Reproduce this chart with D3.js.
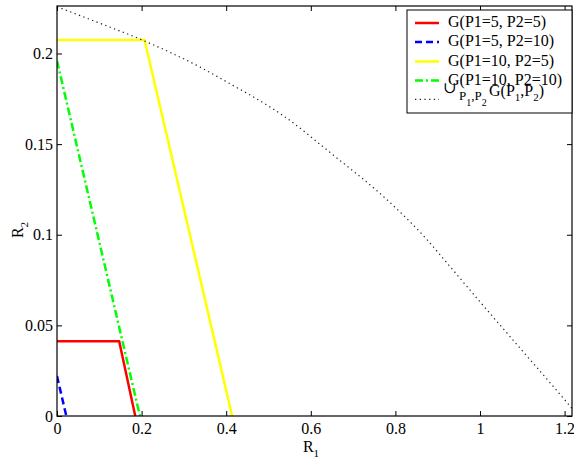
<!DOCTYPE html>
<html><head><meta charset="utf-8">
<script src="https://cdn.jsdelivr.net/npm/d3@7"></script>
<style>body{margin:0;background:#fff}svg{display:block}text{font-family:"Liberation Serif","Times New Roman",serif;fill:#000}</style>
</head><body>
<svg id="c" width="574" height="462"></svg>
<script>
// data
const xTicks = [0, 0.2, 0.4, 0.6, 0.8, 1, 1.2];
const yTicks = [0, 0.05, 0.1, 0.15, 0.2];
const xTickLabels = ["0", "0.2", "0.4", "0.6", "0.8", "1", "1.2"];
const yTickLabels = ["0", "0.05", "0.1", "0.15", "0.2"];
const g55_R1 = [0, 0.147, 0.185];
const g55_R2 = [0.0413, 0.0413, 0];
const g510_R1 = [0, 0.022];
const g510_R2 = [0.022, 0];
const g105_R1 = [0, 0.207, 0.414];
const g105_R2 = [0.2075, 0.2075, 0];
const g1010_R1 = [0, 0.196];
const g1010_R2 = [0.196, 0];
const union_R1 = [0, 0.1, 0.206, 0.338, 0.4, 0.539, 0.645, 0.8, 0.87, 0.929, 1.0, 1.1, 1.2, 1.218];
const union_R2 = [0.2258, 0.2168, 0.207, 0.1925, 0.1845, 0.165, 0.1455, 0.115, 0.0985, 0.0825, 0.063, 0.036, 0.009, 0.004];
const seriesNames = ["G(P1=5, P2=5)", "G(P1=5, P2=10)", "G(P1=10, P2=5)", "G(P1=10, P2=10)"];

const svg = d3.select("#c");
const L = 57, R = 572, T = 6, B = 416;
const x = d3.scaleLinear().domain([0, 1.2175]).range([L, R]);
const y = d3.scaleLinear().domain([0, 0.2262]).range([B, T]);

svg.append("clipPath").attr("id","cp").append("rect")
  .attr("x", L).attr("y", T).attr("width", R-L).attr("height", B-T);

const series = [
  {xs: g55_R1, ys: g55_R2, color: "#ff0000", dash: null, w: 2.5, curve: d3.curveLinear},
  {xs: g510_R1, ys: g510_R2, color: "#0000ff", dash: "7,4", w: 2.5, curve: d3.curveLinear},
  {xs: g105_R1, ys: g105_R2, color: "#ffff00", dash: null, w: 2.5, curve: d3.curveLinear},
  {xs: g1010_R1, ys: g1010_R2, color: "#00ff00", dash: "8,3,2,3", w: 2.5, curve: d3.curveLinear},
  {xs: union_R1, ys: union_R2, color: "#222", dash: "1.3,3.4", w: 1.2, curve: d3.curveMonotoneX}
];
const plot = svg.append("g").attr("clip-path", "url(#cp)");
series.forEach(s => {
  const line = d3.line().x(d => x(d[0])).y(d => y(d[1])).curve(s.curve);
  plot.append("path").datum(s.xs.map((v,i)=>[v, s.ys[i]]))
    .attr("d", line).attr("fill","none").attr("stroke", s.color)
    .attr("stroke-width", s.w).attr("stroke-dasharray", s.dash);
});

// axes
const xa = d3.axisBottom(x).tickValues(xTicks).tickFormat((d,i)=>xTickLabels[i]).tickSizeInner(-5).tickSizeOuter(0).tickPadding(7);
const ya = d3.axisLeft(y).tickValues(yTicks).tickFormat((d,i)=>yTickLabels[i]).tickSizeInner(-5).tickSizeOuter(0).tickPadding(4);
const xt = d3.axisTop(x).tickValues(xTicks).tickFormat("").tickSizeInner(-5).tickSizeOuter(0);
const yr = d3.axisRight(y).tickValues(yTicks).tickFormat("").tickSizeInner(-5).tickSizeOuter(0);
function style(g){
  g.attr("font-family",'"Liberation Serif", serif').attr("font-size",16);
  g.select(".domain").remove();
  g.selectAll("line").attr("stroke","#000");
  g.selectAll("text").attr("font-family",'"Liberation Serif", serif').attr("font-size",16);
}
svg.append("g").attr("transform",`translate(0,${B})`).call(xa).call(style);
svg.append("g").attr("transform",`translate(${L},0)`).call(ya).call(style);
svg.append("g").attr("transform",`translate(0,${T})`).call(xt).call(style);
svg.append("g").attr("transform",`translate(${R},0)`).call(yr).call(style);
svg.append("rect").attr("x",L).attr("y",T).attr("width",R-L).attr("height",B-T)
  .attr("fill","none").attr("stroke","#000").attr("stroke-width",1.2);

// axis labels
const xl = svg.append("text").attr("x", 311).attr("y", 452).attr("text-anchor","middle").style("font-size","16px");
xl.append("tspan").text("R");
xl.append("tspan").attr("dy",5).style("font-size","11px").text("1");
const yl = svg.append("text").attr("transform","translate(23,230) rotate(-90)").attr("text-anchor","middle").style("font-size","16px");
yl.append("tspan").text("R");
yl.append("tspan").attr("dy",5).style("font-size","11px").text("2");

// legend
const lg = svg.append("g");
lg.append("rect").attr("x",407).attr("y",10).attr("width",165).attr("height",103)
  .attr("fill","#fff").attr("stroke","#000").attr("stroke-width",1);
const rowY = [23, 42, 61.5, 80.5, 99.3];
series.forEach((s,i) => {
  lg.append("line").attr("x1",415).attr("x2",439).attr("y1",rowY[i]).attr("y2",rowY[i])
    .attr("stroke", s.color).attr("stroke-width", s.w).attr("stroke-dasharray", s.dash);
  if (i < 4) lg.append("text").attr("x",448).attr("y",rowY[i]+4).style("font-size","16px").text(seriesNames[i]);
});
// union label
lg.append("text").attr("x",443).attr("y",93).style("font-size","16px").style("font-family",'"DejaVu Serif", serif').text("∪");
const u = lg.append("text").attr("x",459).attr("y",100).style("font-size","13px");
u.append("tspan").text("P");
u.append("tspan").attr("dy",6).style("font-size","10px").text("1");
u.append("tspan").attr("dy",-6).text(",P");
u.append("tspan").attr("dy",6).style("font-size","10px").text("2");
const u2 = lg.append("text").attr("x",489).attr("y",96).style("font-size","16px");
u2.append("tspan").text("G(P");
u2.append("tspan").attr("dy",5).style("font-size","11px").text("1");
u2.append("tspan").attr("dy",-5).text(",P");
u2.append("tspan").attr("dy",5).style("font-size","11px").text("2");
u2.append("tspan").attr("dy",-5).text(")");
</script>
</body></html>
